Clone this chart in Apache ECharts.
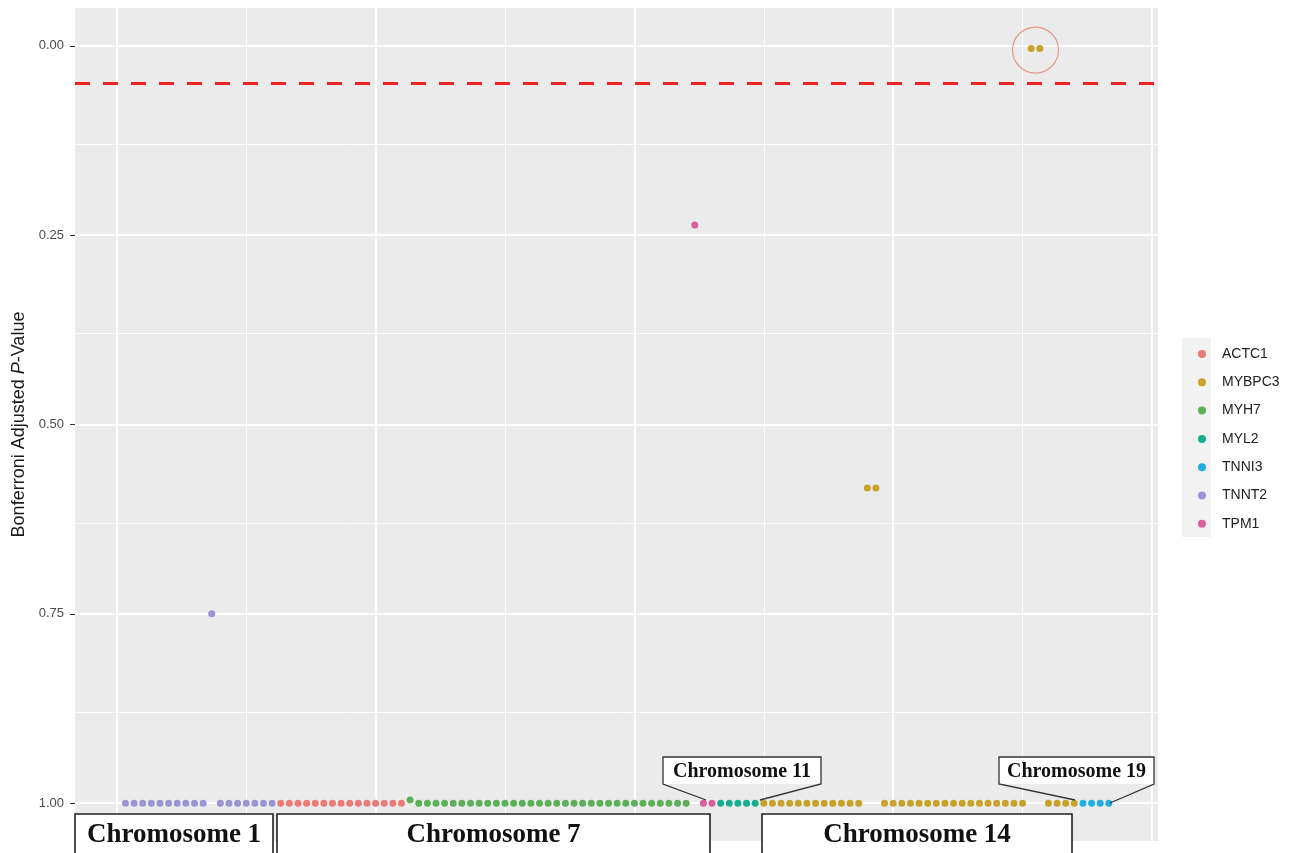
<!DOCTYPE html>
<html><head><meta charset="utf-8">
<script src="https://cdn.jsdelivr.net/npm/echarts@6/dist/echarts.min.js"></script>
<style>html,body{margin:0;padding:0;background:#fff}#c{width:1291px;height:853px}</style>
</head><body><div id="c"></div>
<script>
// ---------------- data ----------------
const genes = ['ACTC1','MYBPC3','MYH7','MYL2','TNNI3','TNNT2','TPM1'];

const TNNT2_pos = [1,2,3,4,5,6,7,8,9,10,11,12,13,14,15,16,17,18];
const TNNT2_p   = [1,1,1,1,1,1,1,1,1,1,0.75,1,1,1,1,1,1,1];

const ACTC1_pos = [19,20,21,22,23,24,25,26,27,28,29,30,31,32,33];
const ACTC1_p   = [1,1,1,1,1,1,1,1,1,1,1,1,1,1,1];

const MYH7_pos = [34,35,36,37,38,39,40,41,42,43,44,45,46,47,48,49,50,51,52,53,54,55,56,57,58,59,60,61,62,63,64,65,66];
const MYH7_p   = [0.996,1,1,1,1,1,1,1,1,1,1,1,1,1,1,1,1,1,1,1,1,1,1,1,1,1,1,1,1,1,1,1,1];

const TPM1_pos = [67,68,69];
const TPM1_p   = [0.2365,1,1];

const MYL2_pos = [70,71,72,73,74];
const MYL2_p   = [1,1,1,1,1];

const MYBPC3_pos = [75,76,77,78,79,80,81,82,83,84,85,86,87,88,89,90,91,92,93,94,95,96,97,98,99,100,101,102,103,104,105,106,107,108,109,110,111];
const MYBPC3_p   = [1,1,1,1,1,1,1,1,1,1,1,1,0.584,0.584,1,1,1,1,1,1,1,1,1,1,1,1,1,1,1,1,1,0.0034,0.0034,1,1,1,1];

const TNNI3_pos = [112,113,114,115];
const TNNI3_p   = [1,1,1,1];

const threshold = 0.05;
const highlightPos = [106.5];
const highlightP = [0.0055];

const yTickValues = [0,0.25,0.5,0.75,1];
const yMinorValues = [0.125,0.375,0.625,0.875];
const xMajorValues = [0,30,60,90,120];
const xMinorValues = [15,45,75,105];

// ---------------- styles ----------------
const colors = {
  ACTC1:'#EC7A78', MYBPC3:'#C9A22C', MYH7:'#5DB05A', MYL2:'#17AF8C',
  TNNI3:'#22AEE0', TNNT2:'#9A94D2', TPM1:'#D9609C'
};
const geneData = {
  ACTC1:[ACTC1_pos,ACTC1_p], MYBPC3:[MYBPC3_pos,MYBPC3_p], MYH7:[MYH7_pos,MYH7_p],
  MYL2:[MYL2_pos,MYL2_p], TNNI3:[TNNI3_pos,TNNI3_p], TNNT2:[TNNT2_pos,TNNT2_p], TPM1:[TPM1_pos,TPM1_p]
};

const chart = echarts.init(document.getElementById('c'));

const gridLines = []
  .concat(yTickValues.map(v => ({yAxis:v, lineStyle:{color:'#ffffff', width:1.8, type:'solid'}})))
  .concat(yMinorValues.map(v => ({yAxis:v, lineStyle:{color:'#ffffff', width:0.9, type:'solid'}})))
  .concat(xMajorValues.map(v => ({xAxis:v, lineStyle:{color:'#ffffff', width:1.8, type:'solid'}})))
  .concat(xMinorValues.map(v => ({xAxis:v, lineStyle:{color:'#ffffff', width:0.9, type:'solid'}})));

const series = [{
  name:'_grid', type:'scatter', data:[[0,1]], symbolSize:0, silent:true, z:0,
  markLine:{silent:true, z:0, symbol:['none','none'], label:{show:false}, animation:false, data:gridLines}
}];
genes.forEach(g => {
  const [pos, p] = geneData[g];
  series.push({
    name:g, type:'scatter', symbolSize:7, z:3,
    itemStyle:{color:colors[g], opacity:1},
    data: pos.map((x,i) => [x, p[i]])
  });
});
series.push({
  name:'_thr', type:'scatter', data:[[0,1]], symbolSize:0, silent:true, z:4,
  markLine:{silent:true, z:4, symbol:['none','none'], label:{show:false}, animation:false,
    data:[{yAxis:threshold, lineStyle:{color:'#EE2424', width:3, type:[15,13]}}]}
});
series.push({
  name:'_circle', type:'scatter', silent:true, z:5, symbol:'circle', symbolSize:46,
  itemStyle:{color:'rgba(0,0,0,0)', borderColor:'#E4866E', borderWidth:1.2},
  data: highlightPos.map((x,i)=>[x, highlightP[i]])
});

function box(x,y,w,h,text,fs,cx,cy){
  return [
    {type:'rect', shape:{x:x,y:y,width:w,height:h}, style:{fill:'#ffffff', stroke:'#222', lineWidth:1.6}, z:100},
    {type:'text', x:cx, y:cy, style:{text:text, font:'bold '+fs+'px "Liberation Serif", "DejaVu Serif", serif', fill:'#111', textAlign:'center', textVerticalAlign:'middle'}, z:101}
  ];
}
function callout(x1,x2,yt,yb,tipL,tipR,text,fs){
  return [
    {type:'rect', shape:{x:x1,y:yt,width:x2-x1,height:yb-yt}, style:{fill:'#ffffff', stroke:null}, z:100},
    {type:'polyline', shape:{points:[tipL,[x1,yb],[x1,yt],[x2,yt],[x2,yb],tipR]}, style:{stroke:'#333', lineWidth:1.3, fill:null}, z:101},
    {type:'text', x:(x1+x2)/2, y:(yt+yb)/2+1, style:{text:text, font:'bold '+fs+'px "Liberation Serif", "DejaVu Serif", serif', fill:'#111', textAlign:'center', textVerticalAlign:'middle'}, z:102}
  ];
}

const graphics = [
  {type:'rect', shape:{x:1182,y:338,width:29,height:199}, style:{fill:'#F2F2F2'}, z:-1}
]
.concat(box(75,814,198,45,'Chromosome 1',27,174,835))
.concat(box(277,814,433,45,'Chromosome 7',27,493.5,835))
.concat(box(762,814,310,45,'Chromosome 14',27,917,835))
.concat(callout(663,821,757,784,[706,800],[760,800],'Chromosome 11',20))
.concat(callout(999,1154,757,784,[1075,800],[1110,803],'Chromosome 19',20));

chart.setOption({
  animation:false,
  backgroundColor:'#ffffff',
  grid:{left:75, right:133, top:8, bottom:12, show:true, backgroundColor:'#EBEBEB', borderWidth:0, containLabel:false},
  xAxis:{type:'value', min:-4.85, max:120.7, axisLine:{show:false, onZero:false}, axisTick:{show:false}, axisLabel:{show:false}, splitLine:{show:false}},
  yAxis:{type:'value', inverse:true, min:-0.05, max:1.05,
    axisLine:{show:false, onZero:false},
    axisTick:{show:true, length:5, lineStyle:{color:'#333', width:1}, customValues:yTickValues},
    axisLabel:{customValues:yTickValues, formatter:v=>v.toFixed(2), color:'#4D4D4D', fontSize:13, margin:11, fontFamily:'"Liberation Sans", Arial, sans-serif'},
    splitLine:{show:false},
    name:'Bonferroni Adjusted {i|P}-Value', nameLocation:'middle', nameGap:47, nameRotate:90,
    nameTextStyle:{color:'#1A1A1A', fontSize:18, fontFamily:'"Liberation Sans", Arial, sans-serif',
      rich:{i:{fontStyle:'italic', fontSize:18, color:'#1A1A1A', fontFamily:'"Liberation Sans", Arial, sans-serif'}}}
  },
  legend:{data:genes, orient:'vertical', left:1193, top:341, icon:'circle', itemWidth:8, itemHeight:8, itemGap:12.3,
    textStyle:{color:'#222', fontSize:14, lineHeight:16, fontFamily:'"Liberation Sans", Arial, sans-serif', padding:[0,0,0,11]},
    selectedMode:false},
  series:series,
  graphic:graphics
});
</script></body></html>
